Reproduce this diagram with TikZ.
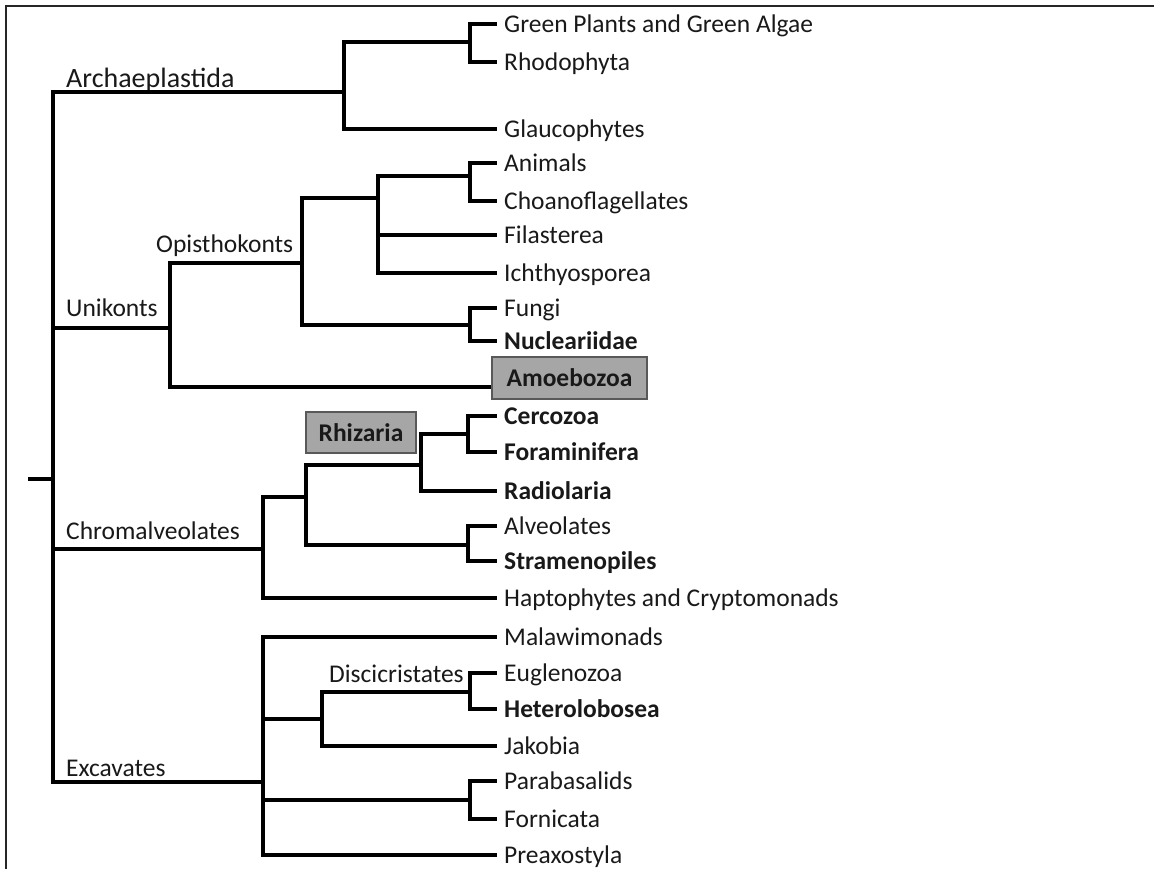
\documentclass[tikz,border=0pt]{standalone}
\usepackage{fontspec}
\setmainfont{Carlito}
\begin{document}
\begin{tikzpicture}[
  x=1pt, y=-1pt,
  branch/.style={line width=3.3pt},
  leaf/.style={anchor=west, inner xsep=7pt, inner ysep=0pt, text height=19pt, text depth=2pt,
    font=\fontsize{25.5}{30}\selectfont, text=black!90},
  bleaf/.style={leaf, font=\bfseries\fontsize{25.5}{30}\selectfont},
  clade/.style={anchor=base west, inner sep=0pt, font=\fontsize{25.5}{30}\selectfont, text=black!90},
  groupbox/.style={draw=black!65, line width=1.3pt, fill=black!35, inner sep=0pt,
    font=\bfseries\fontsize{25.5}{30}\selectfont, text=black!90}
]
  \useasboundingbox (0,0) rectangle (1154,869);
  \draw[line width=1.8pt, black!85] (1154,6) -- (6,6) -- (6,869);

  % Eukaryotni strom
  \coordinate (stub) at (28,479);
  \coordinate (root) at (53,479);
  \coordinate (arch) at (344,92);
  \coordinate (gp) at (470,42);
  \coordinate (uni) at (170,328);
  \coordinate (opis) at (302,263);
  \coordinate (holo) at (378,198);
  \coordinate (anch) at (470,176);
  \coordinate (fung) at (470,325);
  \coordinate (chrom) at (263,549);
  \coordinate (rs) at (306,497);
  \coordinate (rhiz) at (421,465);
  \coordinate (cefo) at (468,434);
  \coordinate (alst) at (468,545);
  \coordinate (exc) at (263,782);
  \coordinate (disc0) at (322,719);
  \coordinate (disc) at (470,692);
  \coordinate (parfo) at (470,800);

  \node[leaf] (green) at (497,24) {Green Plants and Green Algae};
  \node[leaf] (rhodo) at (497,62) {Rhodophyta};
  \node[leaf] (glauco) at (497,129) {Glaucophytes};
  \node[leaf] (animals) at (497,163) {Animals};
  \node[leaf] (choano) at (497,201) {Choanoflagellates};
  \node[leaf] (filas) at (497,235) {Filasterea};
  \node[leaf] (ichth) at (497,273) {Ichthyosporea};
  \node[leaf] (fungi) at (497,308) {Fungi};
  \node[bleaf] (nucl) at (497,341) {Nucleariidae};
  \node[groupbox, minimum width=155pt, minimum height=42pt] (amoe) at (569.5,378) {Amoebozoa};
  \node[bleaf] (cerco) at (497,416) {Cercozoa};
  \node[bleaf] (foram) at (497,452) {Foraminifera};
  \node[bleaf] (radio) at (497,491) {Radiolaria};
  \node[leaf] (alveo) at (497,526) {Alveolates};
  \node[bleaf] (stram) at (497,561) {Stramenopiles};
  \node[leaf] (hapto) at (497,598) {Haptophytes and Cryptomonads};
  \node[leaf] (malaw) at (497,637) {Malawimonads};
  \node[leaf] (eugl) at (497,673) {Euglenozoa};
  \node[bleaf] (heter) at (497,709) {Heterolobosea};
  \node[leaf] (jakob) at (497,746) {Jakobia};
  \node[leaf] (parab) at (497,781) {Parabasalids};
  \node[leaf] (fornic) at (497,819) {Fornicata};
  \node[leaf] (preax) at (497,855) {Preaxostyla};

  \node[clade, font=\fontsize{28}{32}\selectfont] (archlab) at (66,88) {Archaeplastida};
  \node[clade] (unilab) at (66,316) {Unikonts};
  \node[clade] (opislab) at (156,252) {Opisthokonts};
  \node[clade] (chromlab) at (66,539) {Chromalveolates};
  \node[clade] (exclab) at (66,776) {Excavates};
  \node[clade] (disclab) at (329,682) {Discicristates};
  \node[groupbox, minimum width=110pt, minimum height=41pt] (rhizbox) at (361,432.5) {Rhizaria};

  \draw[branch] (stub) -- (root);
  \draw[branch] (root) |- (arch);
  \draw[branch] (root) |- (uni);
  \draw[branch] (root) |- (chrom);
  \draw[branch] (root) |- (exc);
  \draw[branch] (arch) |- (gp);
  \draw[branch] (arch) |- (glauco.west);
  \draw[branch] (gp) |- (green.west);
  \draw[branch] (gp) |- (rhodo.west);
  \draw[branch] (uni) |- (opis);
  \draw[branch] (uni) |- ([yshift=-9pt]amoe.west);
  \draw[branch] (opis) |- (holo);
  \draw[branch] (opis) |- (fung);
  \draw[branch] (holo) |- (anch);
  \draw[branch] (holo) |- (filas.west);
  \draw[branch] (holo) |- (ichth.west);
  \draw[branch] (anch) |- (animals.west);
  \draw[branch] (anch) |- (choano.west);
  \draw[branch] (fung) |- (fungi.west);
  \draw[branch] (fung) |- (nucl.west);
  \draw[branch] (chrom) |- (rs);
  \draw[branch] (chrom) |- (hapto.west);
  \draw[branch] (rs) |- (rhiz);
  \draw[branch] (rs) |- (alst);
  \draw[branch] (rhiz) |- (cefo);
  \draw[branch] (rhiz) |- (radio.west);
  \draw[branch] (cefo) |- (cerco.west);
  \draw[branch] (cefo) |- (foram.west);
  \draw[branch] (alst) |- (alveo.west);
  \draw[branch] (alst) |- (stram.west);
  \draw[branch] (exc) |- (malaw.west);
  \draw[branch] (exc) |- (disc0);
  \draw[branch] (exc) |- (parfo);
  \draw[branch] (exc) |- (preax.west);
  \draw[branch] (disc0) |- (disc);
  \draw[branch] (disc0) |- (jakob.west);
  \draw[branch] (disc) |- (eugl.west);
  \draw[branch] (disc) |- (heter.west);
  \draw[branch] (parfo) |- (parab.west);
  \draw[branch] (parfo) |- (fornic.west);
\end{tikzpicture}
\end{document}
